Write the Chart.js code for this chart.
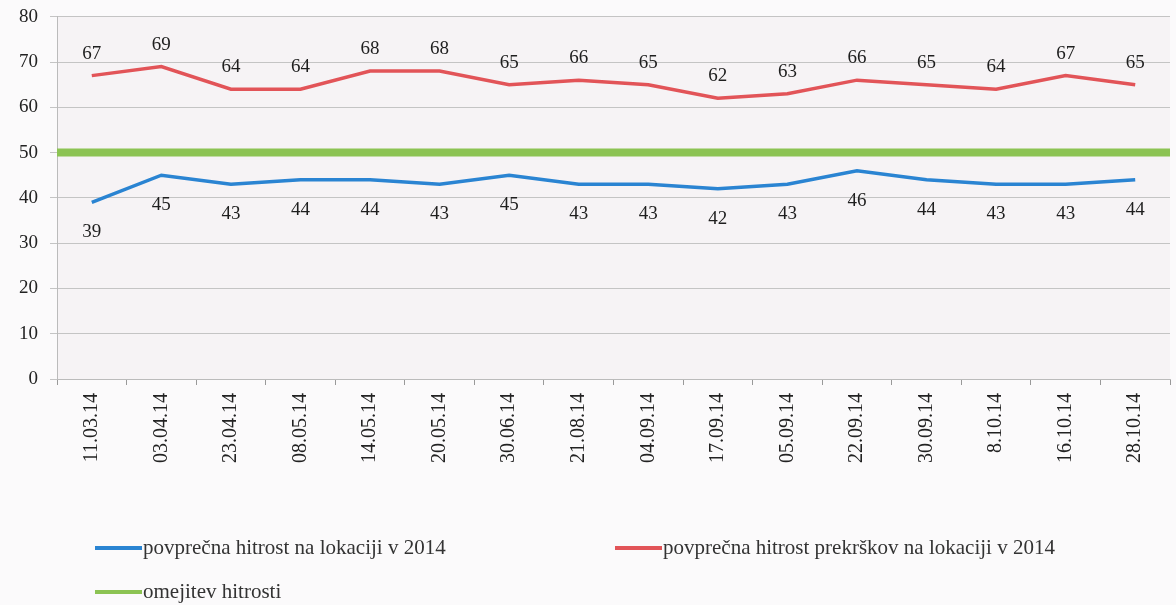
<!DOCTYPE html>
<html>
<head>
<meta charset="utf-8">
<script src="https://cdn.jsdelivr.net/npm/chart.js@4.4.0/dist/chart.umd.min.js"></script>
<style>
  html, body { margin: 0; padding: 0; background: #fbfafb; }
  #wrap { width: 1176px; height: 605px; }
</style>
</head>
<body>
<div id="wrap"><canvas id="chart"></canvas></div>
<script>
// dates of measurements
const dates = ['11.03.14', '03.04.14', '23.04.14', '08.05.14', '14.05.14', '20.05.14', '30.06.14', '21.08.14',
  '04.09.14', '17.09.14', '05.09.14', '22.09.14', '30.09.14', '8.10.14', '16.10.14', '28.10.14'];
const avgSpeed = [39, 45, 43, 44, 44, 43, 45, 43, 43, 42, 43, 46, 44, 43, 43, 44];
const avgViolationSpeed = [67, 69, 64, 64, 68, 68, 65, 66, 65, 62, 63, 66, 65, 64, 67, 65];
const speedLimit = [50, 50, 50, 50, 50, 50, 50, 50, 50, 50, 50, 50, 50, 50, 50, 50];
const yTicks = [0, 10, 20, 30, 40, 50, 60, 70, 80];

const serif = '"Liberation Serif", "DejaVu Serif", serif';

// value labels: red above the line, blue below it
const valueLabels = {
  id: 'valueLabels',
  afterDatasetsDraw(chart) {
    const ctx = chart.ctx;
    ctx.save();
    ctx.font = '19px ' + serif;
    ctx.fillStyle = '#1e1e1e';
    ctx.textAlign = 'center';
    ctx.textBaseline = 'middle';
    chart.data.datasets.forEach((ds, i) => {
      if (!ds.showValues) return;
      chart.getDatasetMeta(i).data.forEach((pt, j) => {
        const dy = ds.showValues === 'above' ? -22 : 30;
        ctx.fillText(ds.data[j], pt.x, pt.y + dy);
      });
    });
    ctx.restore();
  }
};

// plot background + legend in two columns under the axis
const extras = {
  id: 'extras',
  beforeDraw(chart) {
    const { ctx, chartArea } = chart;
    ctx.save();
    ctx.fillStyle = '#f6f3f5';
    ctx.fillRect(chartArea.left, chartArea.top, chartArea.right - chartArea.left, chartArea.bottom - chartArea.top);
    ctx.restore();
  },
  afterDraw(chart) {
    const ctx = chart.ctx;
    const spots = [[95, 548], [95, 592], [615, 548]];
    const order = [0, 2, 1];
    ctx.save();
    ctx.font = '21px ' + serif;
    ctx.textBaseline = 'middle';
    ctx.fillStyle = '#333';
    order.forEach((di, k) => {
      const ds = chart.data.datasets[di];
      const [x, y] = spots[k];
      ctx.strokeStyle = ds.borderColor;
      ctx.lineWidth = 4;
      ctx.beginPath();
      ctx.moveTo(x, y);
      ctx.lineTo(x + 47, y);
      ctx.stroke();
      ctx.fillText(ds.label, x + 48, y);
    });
    ctx.restore();
  }
};

new Chart(document.getElementById('chart'), {
  type: 'line',
  data: {
    labels: dates,
    datasets: [
      {
        label: 'povprečna hitrost na lokaciji v 2014',
        data: avgSpeed,
        borderColor: '#2a84d2',
        borderWidth: 3.5,
        pointRadius: 0,
        tension: 0,
        showValues: 'below'
      },
      {
        label: 'povprečna hitrost prekrškov na lokaciji v 2014',
        data: avgViolationSpeed,
        borderColor: '#e25458',
        borderWidth: 3.5,
        pointRadius: 0,
        tension: 0,
        showValues: 'above'
      },
      {
        label: 'omejitev hitrosti',
        data: speedLimit,
        xAxisID: 'x2',
        borderColor: '#8cc353',
        borderWidth: 8,
        pointRadius: 0,
        tension: 0
      }
    ]
  },
  options: {
    responsive: true,
    maintainAspectRatio: false,
    animation: false,
    layout: { padding: { top: 0, right: 6, left: 7, bottom: 134 } },
    plugins: {
      legend: { display: false },
      tooltip: { enabled: false }
    },
    scales: {
      x: {
        offset: true,
        grid: { display: true, drawOnChartArea: false, offset: true, tickLength: 6, color: '#999' },
        border: { color: '#bbb' },
        ticks: {
          minRotation: 90,
          maxRotation: 90,
          autoSkip: false,
          padding: 8,
          color: '#222',
          font: { family: serif, size: 20 }
        }
      },
      // spans the full width so the limit line runs edge to edge
      x2: {
        type: 'category',
        display: false,
        offset: false
      },
      y: {
        min: 0,
        max: 80,
        afterBuildTicks(axis) { axis.ticks = yTicks.map(v => ({ value: v })); },
        grid: { color: '#c4c4c4', tickLength: 7 },
        border: { color: '#bbb' },
        ticks: {
          padding: 12,
          color: '#222',
          font: { family: serif, size: 19, lineHeight: 0.5 }
        }
      }
    }
  },
  plugins: [extras, valueLabels]
});
</script>
</body>
</html>
